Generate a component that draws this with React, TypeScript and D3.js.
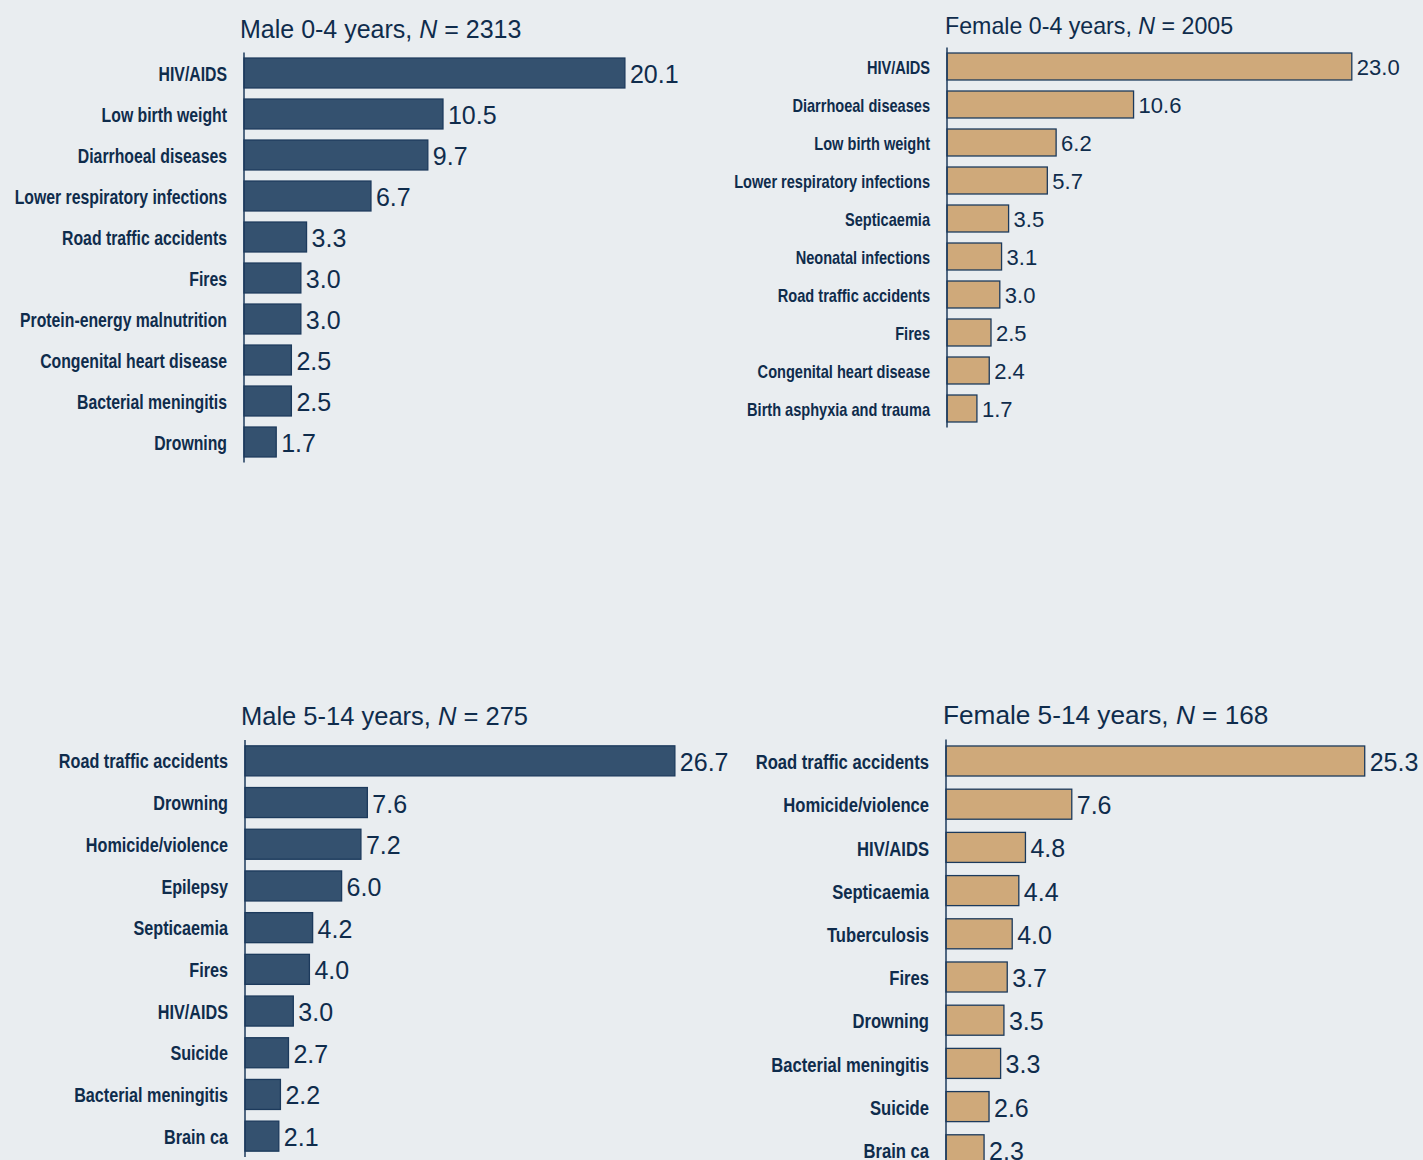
import React, { useEffect, useRef } from 'react';
import * as d3 from 'd3';

// Male 0-4 years
const male04Causes = ['HIV/AIDS', 'Low birth weight', 'Diarrhoeal diseases', 'Lower respiratory infections', 'Road traffic accidents', 'Fires', 'Protein-energy malnutrition', 'Congenital heart disease', 'Bacterial meningitis', 'Drowning'];
const male04Values = [20.1, 10.5, 9.7, 6.7, 3.3, 3.0, 3.0, 2.5, 2.5, 1.7];

// Female 0-4 years
const female04Causes = ['HIV/AIDS', 'Diarrhoeal diseases', 'Low birth weight', 'Lower respiratory infections', 'Septicaemia', 'Neonatal infections', 'Road traffic accidents', 'Fires', 'Congenital heart disease', 'Birth asphyxia and trauma'];
const female04Values = [23.0, 10.6, 6.2, 5.7, 3.5, 3.1, 3.0, 2.5, 2.4, 1.7];

// Male 5-14 years
const male514Causes = ['Road traffic accidents', 'Drowning', 'Homicide/violence', 'Epilepsy', 'Septicaemia', 'Fires', 'HIV/AIDS', 'Suicide', 'Bacterial meningitis', 'Brain ca'];
const male514Values = [26.7, 7.6, 7.2, 6.0, 4.2, 4.0, 3.0, 2.7, 2.2, 2.1];

// Female 5-14 years
const female514Causes = ['Road traffic accidents', 'Homicide/violence', 'HIV/AIDS', 'Septicaemia', 'Tuberculosis', 'Fires', 'Drowning', 'Bacterial meningitis', 'Suicide', 'Brain ca'];
const female514Values = [25.3, 7.6, 4.8, 4.4, 4.0, 3.7, 3.5, 3.3, 2.6, 2.3];

const titles = ['Male 0-4 years, ', 'Female 0-4 years, ', 'Male 5-14 years, ', 'Female 5-14 years, '];
const nValues = ['2313', '2005', '275', '168'];

const W = 1423;
const H = 1160;
const BG = '#e9edf0';
const TEXT = '#0f2c4c';
const FONT = '"Liberation Sans", Arial, sans-serif';
// no narrow face installed, so labels get squeezed horizontally
const NARROW_X = 0.81;

const App: React.FC = () => {
  const svgRef = useRef<SVGSVGElement>(null);

  useEffect(() => {
    if (!svgRef.current) return;
    const svg = d3.select(svgRef.current);
    svg.selectAll('*').remove();

    svg.append('rect').attr('width', W).attr('height', H).attr('fill', BG);

    const panels = [
      { causes: male04Causes, values: male04Values, fill: '#34516f', axisX: 244, pxPerUnit: 18.95, y0: 52.5, step: 41, pad: 0.27, titleX: 240, titleY: 38, titleSize: 25, labelSize: 19.5, valueSize: 25 },
      { causes: female04Causes, values: female04Values, fill: '#cfa97a', axisX: 947, pxPerUnit: 17.6, y0: 47.5, step: 38, pad: 0.29, titleX: 945, titleY: 34, titleSize: 23.2, labelSize: 18, valueSize: 22 },
      { causes: male514Causes, values: male514Values, fill: '#34516f', axisX: 245, pxPerUnit: 16.1, y0: 740, step: 41.7, pad: 0.28, titleX: 241, titleY: 725, titleSize: 25.5, labelSize: 20, valueSize: 25 },
      { causes: female514Causes, values: female514Values, fill: '#cfa97a', axisX: 946, pxPerUnit: 16.55, y0: 739.4, step: 43.2, pad: 0.305, titleX: 943, titleY: 724, titleSize: 26.2, labelSize: 20.5, valueSize: 25 },
    ];

    panels.forEach((p, pi) => {
      const g = svg.append('g');
      const maxV = d3.max(p.values) as number;
      const x = d3.scaleLinear().domain([0, maxV]).range([p.axisX, p.axisX + maxV * p.pxPerUnit]);
      const y = d3.scaleBand<string>()
        .domain(p.causes)
        .range([p.y0, p.y0 + p.step * p.causes.length])
        .paddingInner(p.pad)
        .paddingOuter(p.pad / 2);
      const mid = (c: string) => (y(c) as number) + y.bandwidth() / 2;

      const title = g.append('text')
        .attr('x', p.titleX)
        .attr('y', p.titleY)
        .attr('fill', TEXT)
        .attr('font-family', FONT)
        .attr('font-size', p.titleSize);
      title.append('tspan').text(titles[pi]);
      title.append('tspan').attr('font-style', 'italic').text('N');
      title.append('tspan').text(' = ' + nValues[pi]);

      g.selectAll('rect.bar')
        .data(p.values)
        .join('rect')
        .attr('class', 'bar')
        .attr('x', x(0))
        .attr('y', (_, i) => y(p.causes[i]) as number)
        .attr('width', (d) => x(d) - x(0))
        .attr('height', y.bandwidth())
        .attr('fill', p.fill)
        .attr('stroke', '#1c3a5c')
        .attr('stroke-width', 1.3);

      g.selectAll('text.value')
        .data(p.values)
        .join('text')
        .attr('class', 'value')
        .attr('x', (d) => x(d) + 5)
        .attr('y', (_, i) => mid(p.causes[i]) + 1)
        .attr('dominant-baseline', 'central')
        .attr('fill', TEXT)
        .attr('font-family', FONT)
        .attr('font-size', p.valueSize)
        .text((d) => d.toFixed(1));

      g.selectAll('text.label')
        .data(p.causes)
        .join('text')
        .attr('class', 'label')
        .attr('transform', (d) => `translate(${p.axisX - 17},${mid(d) + 1}) scale(${NARROW_X},1)`)
        .attr('dominant-baseline', 'central')
        .attr('text-anchor', 'end')
        .attr('fill', TEXT)
        .attr('font-family', FONT)
        .attr('font-weight', 'bold')
        .attr('font-size', p.labelSize)
        .text((d) => d);

      const [r0, r1] = y.range();
      g.append('line')
        .attr('x1', x(0))
        .attr('x2', x(0))
        .attr('y1', r0)
        .attr('y2', r1)
        .attr('stroke', '#1c3a5c')
        .attr('stroke-width', 1.5);
    });
  }, []);

  return (
    <svg ref={svgRef} width={W} height={H} style={{ position: 'absolute', left: 0, top: 0, display: 'block' }} />
  );
};

export default App;
